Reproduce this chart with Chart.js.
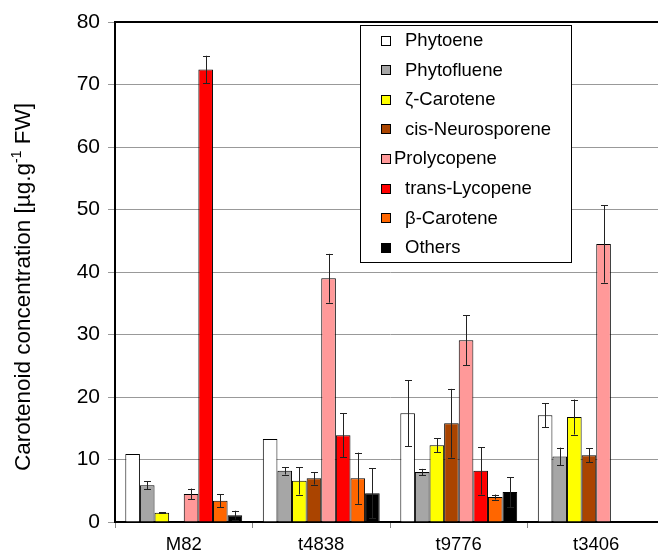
<!DOCTYPE html>
<html>
<head>
<meta charset="utf-8">
<script src="https://cdn.jsdelivr.net/npm/chart.js@4/dist/chart.umd.min.js"></script>
<style>
  html, body { margin: 0; padding: 0; background: #fff; overflow: hidden; }
  canvas { display: block; }
</style>
</head>
<body>
<canvas id="c" width="665" height="552"></canvas>
<script>
// Tomato lines and the carotenoids measured in each
const categories = ['M82', 't4838', 't9776', 't3406'];
const seriesNames = ['Phytoene', 'Phytofluene', 'ζ-Carotene', 'cis-Neurosporene',
                     'Prolycopene', 'trans-Lycopene', 'β-Carotene', 'Others'];
const seriesColors = ['#ffffff', '#a6a6a6', '#ffff00', '#aa4400',
                      '#ff9999', '#ff0000', '#ff6600', '#000000'];

// Mean concentrations (µg per g fresh weight)
const phytoene        = [10.9, 13.3, 17.4, 17.1];
const phytofluene     = [5.9, 8.2, 8.0, 10.5];
const zetaCarotene    = [1.5, 6.6, 12.3, 16.8];
const cisNeurosporene = [null, 7.0, 15.8, 10.7];
const prolycopene     = [4.5, 39.0, 29.1, 44.5];
const transLycopene   = [72.4, 13.9, 8.2, null];
const betaCarotene    = [3.4, 7.0, 4.0, null];
const others          = [1.1, 4.6, 4.8, null];

// Standard deviations
const phytoeneErr        = [0, 0, 5.3, 1.9];
const phytofluenErr      = [0.65, 0.6, 0.5, 1.4];
const zetaCaroteneErr    = [0.1, 2.2, 1.1, 2.8];
const cisNeurosporeneErr = [null, 1.0, 5.5, 1.1];
const prolycopeneErr     = [0.85, 3.9, 4.0, 6.2];
const transLycopeneErr   = [2.2, 3.5, 3.8, null];
const betaCaroteneErr    = [1.05, 4.1, 0.4, null];
const othersErr          = [0.7, 4.0, 2.4, null];

const yTicks = { min: 0, max: 80, step: 10 };
const yTitle = ['Carotenoid concentration [µg.g', '-1', ' FW]'];

const values = [phytoene, phytofluene, zetaCarotene, cisNeurosporene,
                prolycopene, transLycopene, betaCarotene, others];
const errors = [phytoeneErr, phytofluenErr, zetaCaroteneErr, cisNeurosporeneErr,
                prolycopeneErr, transLycopeneErr, betaCaroteneErr, othersErr];

const FONT = '"Liberation Sans", Arial, Helvetica, sans-serif';

const datasets = seriesNames.map((name, i) => ({
  label: name,
  data: values[i],
  errors: errors[i],
  backgroundColor: seriesColors[i],
  borderColor: '#000',
  borderWidth: 1,
  borderSkipped: 'start'
}));

// Error bars drawn from the y scale
const errorBars = {
  id: 'errorBars',
  afterDatasetsDraw(chart) {
    const ctx = chart.ctx, y = chart.scales.y;
    ctx.save();
    ctx.strokeStyle = '#222';
    ctx.lineWidth = 1;
    chart.data.datasets.forEach((ds, di) => {
      const meta = chart.getDatasetMeta(di);
      meta.data.forEach((bar, j) => {
        const v = ds.data[j], e = ds.errors[j];
        if (v == null || !e) return;
        const x = Math.round(bar.x) + 0.5;
        const yt = y.getPixelForValue(v + e), yb = y.getPixelForValue(v - e);
        ctx.beginPath();
        ctx.moveTo(x, yt); ctx.lineTo(x, yb);
        ctx.moveTo(x - 3.5, Math.round(yt) + 0.5); ctx.lineTo(x + 3.5, Math.round(yt) + 0.5);
        ctx.moveTo(x - 3.5, Math.round(yb) + 0.5); ctx.lineTo(x + 3.5, Math.round(yb) + 0.5);
        ctx.stroke();
      });
    });
    ctx.restore();
  }
};

// Frame line along the top of the plot, boxed legend and the y-axis title
const decorations = {
  id: 'decorations',
  afterDraw(chart) {
    const ctx = chart.ctx, a = chart.chartArea;
    ctx.save();
    ctx.strokeStyle = '#000';
    ctx.lineWidth = 2;
    ctx.beginPath();
    ctx.moveTo(a.left - 1, a.top);
    ctx.lineTo(a.right, a.top);
    ctx.stroke();

    // legend
    const lx = 360.5, ly = 25.5, lw = 211, lh = 237;
    ctx.fillStyle = '#fff';
    ctx.fillRect(lx, ly, lw, lh);
    ctx.lineWidth = 1;
    ctx.strokeRect(lx, ly, lw, lh);
    ctx.font = '18.5px ' + FONT;
    ctx.textBaseline = 'middle';
    ctx.textAlign = 'left';
    chart.data.datasets.forEach((ds, i) => {
      const cy = 40 + i * 29.6;
      ctx.fillStyle = ds.backgroundColor;
      ctx.fillRect(381.5, Math.round(cy - 4.5) + 0.5, 9, 9);
      ctx.strokeStyle = '#000';
      ctx.strokeRect(381.5, Math.round(cy - 4.5) + 0.5, 9, 9);
      ctx.fillStyle = '#000';
      const tx = ds.label === 'Prolycopene' ? 394 : 405;
      ctx.fillText(ds.label, tx, cy + 1);
    });

    // y-axis title with superscript
    ctx.translate(24, 287);
    ctx.rotate(-Math.PI / 2);
    ctx.fillStyle = '#000';
    ctx.textBaseline = 'middle';
    const big = '22.5px ' + FONT, small = '14px ' + FONT;
    ctx.font = big;
    const w1 = ctx.measureText(yTitle[0]).width, w3 = ctx.measureText(yTitle[2]).width;
    ctx.font = small;
    const w2 = ctx.measureText(yTitle[1]).width;
    let x = -(w1 + w2 + w3) / 2;
    ctx.font = big; ctx.fillText(yTitle[0], x, 0); x += w1;
    ctx.font = small; ctx.fillText(yTitle[1], x, -7); x += w2;
    ctx.font = big; ctx.fillText(yTitle[2], x, 0);
    ctx.restore();
  }
};

new Chart(document.getElementById('c'), {
  type: 'bar',
  data: { labels: categories, datasets },
  plugins: [errorBars, decorations],
  options: {
    responsive: false,
    animation: false,
    devicePixelRatio: 1,
    layout: { padding: { top: 22, right: 0, left: 0, bottom: 0 } },
    datasets: { bar: { categoryPercentage: 0.85, barPercentage: 1 } },
    plugins: { legend: { display: false }, tooltip: { enabled: false } },
    scales: {
      x: {
        afterFit(s) { s.height = 30; },
        grid: { display: true, drawOnChartArea: false, drawTicks: true, tickLength: 6, color: '#888', offset: true },
        border: { display: true, color: '#000', width: 2 },
        ticks: { color: '#000', font: { family: FONT, size: 18.5 }, padding: 6 }
      },
      y: {
        min: yTicks.min, max: yTicks.max,
        afterFit(s) { s.width = 115; },
        grid: { color: '#999', lineWidth: 1, tickLength: 7 },
        border: { display: true, color: '#000', width: 2 },
        ticks: { stepSize: yTicks.step, color: '#000', font: { family: FONT, size: 21 }, padding: 8 }
      }
    }
  }
});
</script>
</body>
</html>
